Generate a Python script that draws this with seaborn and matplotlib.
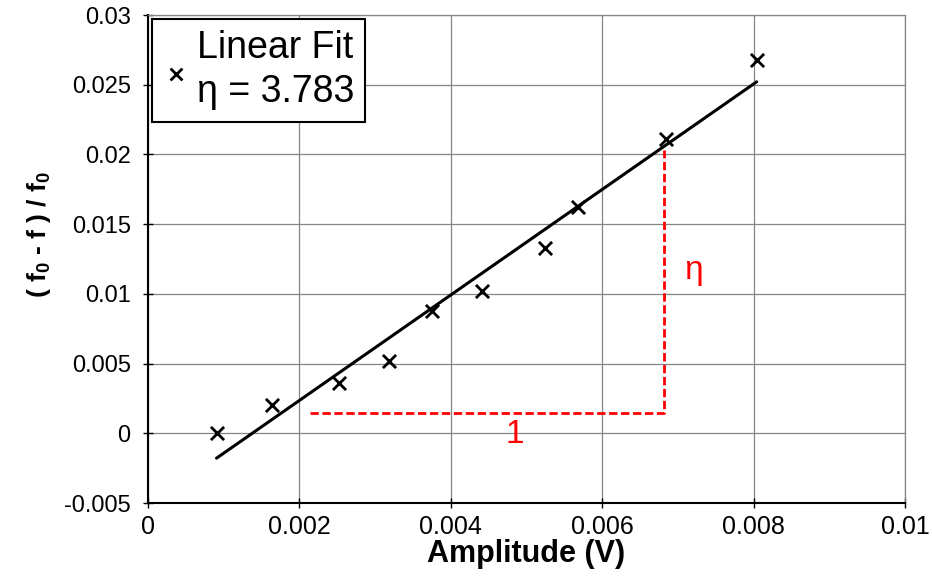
import numpy as np
import pandas as pd
import matplotlib
matplotlib.use("Agg")
import matplotlib.pyplot as plt
import seaborn as sns

# Data
amplitude = [0.000905, 0.00164, 0.00252, 0.00318, 0.00375, 0.00441, 0.00525, 0.00568, 0.00684, 0.00804]
freq_shift = [0.0000, 0.0020, 0.0036, 0.0052, 0.0088, 0.0102, 0.0133, 0.0162, 0.0211, 0.0268]
fit_slope = 3.783
fit_intercept = -0.00521
legend_label = "Linear Fit\n\u03b7 = 3.783"
# slope triangle (red dashed guide)
tri_x = [0.00214, 0.00682, 0.00682]
tri_y = [0.00146, 0.00146, 0.0203]
x_ticks = [0, 0.002, 0.004, 0.006, 0.008, 0.01]
x_ticklabels = ["0", "0.002", "0.004", "0.006", "0.008", "0.01"]
y_ticks = [-0.005, 0, 0.005, 0.01, 0.015, 0.02, 0.025, 0.03]
y_ticklabels = ["-0.005", "0", "0.005", "0.01", "0.015", "0.02", "0.025", "0.03"]

sns.set_theme(style="white")
plt.rcParams['font.family'] = ['Liberation Sans', 'DejaVu Sans']
plt.rcParams['mathtext.fontset'] = 'custom'
plt.rcParams['mathtext.rm'] = 'Liberation Sans'
plt.rcParams['mathtext.bf'] = 'Liberation Sans:bold'
plt.rcParams['mathtext.it'] = 'Liberation Sans:italic'
for k in ['text.color', 'axes.labelcolor', 'xtick.color', 'ytick.color']:
    plt.rcParams[k] = 'black'

fig = plt.figure(figsize=(9.32, 5.79), dpi=100)
ax = fig.add_axes([148/932, 1-503/579, (905-148)/932, (503-15)/579])

df = pd.DataFrame({"x": amplitude, "y": freq_shift})
xf = np.array([min(amplitude), max(amplitude)])
fit_df = pd.DataFrame({"x": xf, "y": fit_slope * xf + fit_intercept})

sns.lineplot(data=fit_df, x="x", y="y", color="black", linewidth=2.2, ax=ax, zorder=3)
sns.scatterplot(data=df, x="x", y="y", marker="x", color="black", s=90, linewidth=2,
                ax=ax, label=legend_label, zorder=4)

ax.plot(tri_x, tri_y, color="red", linewidth=2, dashes=(3, 1.3), zorder=2)
ax.text(0.00484, -0.0001, "1", color="red", fontsize=24, ha="center", va="center")
ax.text(0.0072, 0.0117, "\u03b7", color="red", fontsize=24, ha="center", va="center")

ax.set_xlim(0, 0.01)
ax.set_ylim(-0.005, 0.03)
ax.set_xticks(x_ticks)
ax.set_xticklabels(x_ticklabels, fontsize=18)
ax.set_yticks(y_ticks)
ax.set_yticklabels(y_ticklabels, fontsize=17)

ax.grid(True, color="#858585", linewidth=0.9)
ax.set_axisbelow(True)
for s in ["top", "right"]:
    ax.spines[s].set_color("#858585")
    ax.spines[s].set_linewidth(0.9)
for s in ["left", "bottom"]:
    ax.spines[s].set_color("black")
    ax.spines[s].set_linewidth(1.5)
ax.tick_params(axis="both", direction="inout", length=7, width=1, color="black",
               left=True, bottom=True)
ax.tick_params(axis="y", pad=9)
ax.tick_params(axis="x", pad=5)

ax.set_xlabel("Amplitude (V)", fontweight="bold", fontsize=22, labelpad=0)
ax.set_ylabel(r"$\mathbf{(\ f_0\ }$-$\mathbf{\ f\ )\ /\ f_0}$", fontweight="bold", fontsize=19)
ax.yaxis.set_label_coords(-0.125, 0.55)

leg = ax.legend(loc="upper left", fontsize=27, markerscale=0.9, frameon=True, fancybox=False,
                edgecolor="black", framealpha=1, borderpad=0.3, handletextpad=0.2,
                handlelength=0.7, borderaxespad=0.1)
leg.get_frame().set_linewidth(1.5)
for t in leg.get_texts():
    t.set_linespacing(1.3)

fig.savefig("out.png", dpi=100)
